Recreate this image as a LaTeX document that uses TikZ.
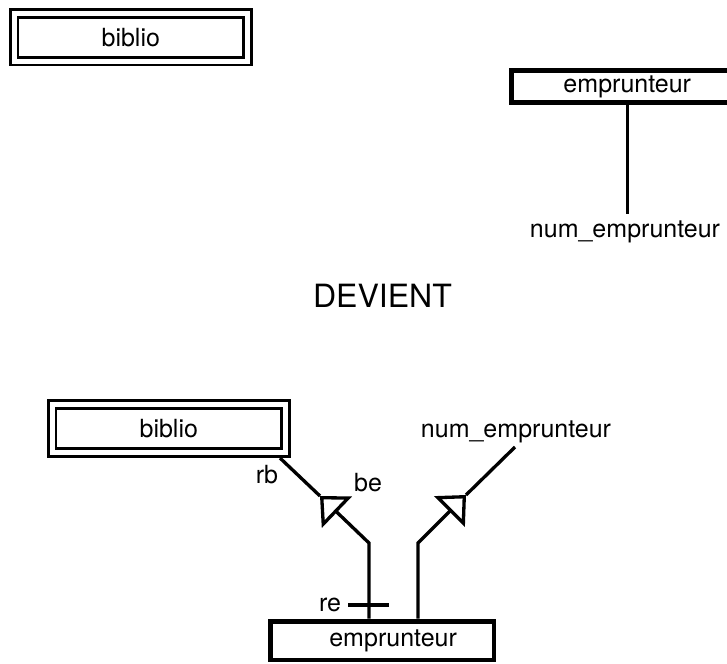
\documentclass[tikz,border=0pt]{standalone}
\usepackage{fontspec}
\setmainfont{TeX Gyre Heros}
\usetikzlibrary{arrows.meta}

\begin{document}
\begin{tikzpicture}[font=\fontsize{12.8}{15}\selectfont, line join=miter,
		entite/.style={draw, line width=2.5pt, inner sep=0pt},
		entref/.style={draw, line width=1.5pt, double, double distance=2.5pt,
			minimum width=4.2cm, minimum height=0.86cm},
		lien/.style={line width=1.7pt},
		pied/.style={lien, -{Triangle[open, length=12pt, width=22pt]}}]
	\useasboundingbox (0,0) rectangle (13.086,11.934);
	% schema de depart
	\node[entref] (biblio1) at (2.354,11.264) {biblio};
	\node[entite, minimum width=4.18cm, minimum height=0.58cm] (empr1) at (11.29,10.377) {emprunteur};
	\node (num1) at (11.25,7.767) {num\_emprunteur};
	\draw[lien] (empr1.south) -- (empr1.south |- num1.north);
	
	\node[font=\fontsize{16.4}{19}\selectfont] (devient) at (6.885,6.615) {DEVIENT};
	
	% schema obtenu
	\node[entref] (biblio2) at (3.038,4.223) {biblio};
	\node[entite, minimum width=4.03cm, minimum height=0.7cm] (empr2) at (6.876,0.405) {\hspace{0.4cm}emprunteur};
	\node (num2) at (9.288,4.158) {num\_emprunteur};
	\path
	(5.04,3.69) coordinate (rb)
	(5.76,3.006) coordinate (tipL)
	(6.642,2.16) coordinate (bendL)
	(9.27,3.888) coordinate (nb)
	(8.388,3.024) coordinate (tipR)
	(7.524,2.16) coordinate (bendR)
	(6.264,1.044) coordinate (re1)
	(7.002,1.044) coordinate (re2)
	;
	\draw[lien] (tipL) -- (rb);
	\draw[pied] (empr2.north -| bendL) -- (bendL) -- (tipL);
	\draw[lien] (tipR) -- (nb);
	\draw[pied] (empr2.north -| bendR) -- (bendR) -- (tipR);
	\draw[lien] (re1) -- (re2);
	\node[left] (re) at (re1) {re};
	\node (rbl) at (4.806,3.384) {rb};
	\node (bel) at (6.624,3.249) {be};
\end{tikzpicture}
\end{document}
